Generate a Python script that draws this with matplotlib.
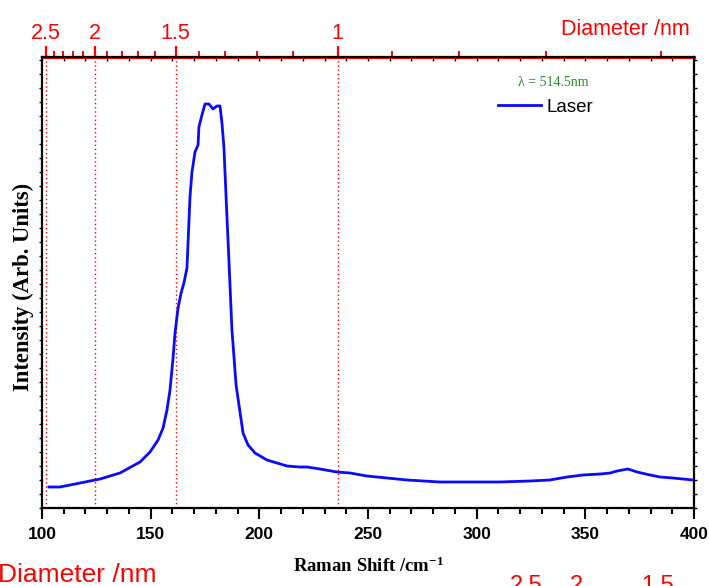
import numpy as np
import matplotlib
matplotlib.use("Agg")
import matplotlib.pyplot as plt
from matplotlib.ticker import FixedLocator, MultipleLocator

plt.rcParams["font.family"] = ["Liberation Sans", "DejaVu Sans"]
plt.rcParams["mathtext.fontset"] = "custom"
plt.rcParams["mathtext.rm"] = "Liberation Serif:bold"
plt.rcParams["mathtext.default"] = "rm"

# Raman spectrum (RBM region), arbitrary intensity units
shift = [103.2, 108.3, 117.5, 126.7, 135.9, 145.1, 149.7, 153.4, 155.7, 157.5,
         158.9, 160.3, 161.2, 162.6, 164.0, 165.3, 166.7, 168.1, 169.0, 170.4,
         171.8, 172.2, 173.6, 175.0, 176.8, 178.7, 180.5, 181.9, 182.8, 183.7,
         184.7, 186.0, 187.4, 189.3, 191.1, 192.5, 194.8, 198.0, 203.5, 208.1,
         212.7, 218.7, 221.9, 227.9, 235.7, 241.7, 249.5, 258.7, 267.9, 283.1,
         296.9, 310.7, 324.5, 333.7, 341.6, 348.9, 356.8, 361.4, 364.6, 369.6,
         373.8, 379.8, 384.4, 390.3, 399.5]
intensity = [21, 21, 25, 29, 35, 46, 56, 68, 80, 98,
             118, 150, 175, 200, 215, 225, 240, 311, 336, 356,
             363, 381, 393, 404, 404, 399, 402, 402, 385, 361,
             311, 248, 178, 123, 96, 75, 63, 55, 48, 45,
             42, 41, 41, 39, 36, 35, 32, 30, 28, 26,
             26, 26, 27, 28, 31, 33, 34, 35, 37, 39,
             36, 33, 31, 30, 28]

diam_major = [2.5, 2, 1.5, 1]
diam_major_labels = ["2.5", "2", "1.5", "1"]
diam_minor = [2.4, 2.3, 2.2, 2.1, 1.9, 1.8, 1.7, 1.6,
              1.4, 1.3, 1.2, 1.1, 0.9, 0.8, 0.7, 0.6]


def to_diam(w):
    w = np.asarray(w, dtype=float)
    return 223.5 / np.where(np.abs(w - 12.5) < 1e-6, 1e-6, w - 12.5)


def to_shift(d):
    d = np.asarray(d, dtype=float)
    return 223.5 / np.where(np.abs(d) < 1e-6, 1e-6, d) + 12.5


fig = plt.figure(figsize=(7.09, 5.86), dpi=100)
ax = fig.add_axes([42 / 709, 78 / 586, 652 / 709, 451 / 586])

ax.plot(shift, intensity, color="#0a0aff", lw=2.0, label="Laser", zorder=3)

for d in diam_major:
    ax.axvline(to_shift(d), color="red", lw=1.0, ls=(0, (1, 2)), zorder=1)

ax.set_xlim(100, 400)
ax.set_ylim(0, 451)
ax.xaxis.set_major_locator(MultipleLocator(50))
ax.xaxis.set_minor_locator(MultipleLocator(10))
ax.yaxis.set_major_locator(MultipleLocator(14))
for s in ax.spines.values():
    s.set_linewidth(1.6)
ax.tick_params(axis="x", which="major", direction="out", length=8, width=1.5,
               pad=6, labelsize=12.5)
ax.tick_params(axis="x", which="minor", direction="out", length=4, width=1.5)
ax.tick_params(axis="y", which="both", direction="out", length=2, width=1,
               left=True, right=True, labelleft=False)
for lab in ax.get_xticklabels():
    lab.set_fontweight("bold")

# mirrored black ticks under the top diameter axis
top0 = ax.secondary_xaxis("top")
top0.set_xticks(np.arange(100, 401, 10))
top0.tick_params(direction="in", length=3, width=1, labeltop=False)
top0.spines["top"].set_visible(False)

# diameter scale, d = 223.5 / (w - 12.5)
sec = ax.secondary_xaxis("top", functions=(to_diam, to_shift))
sec.xaxis.set_major_locator(FixedLocator(diam_major))
sec.set_xticklabels(diam_major_labels)
sec.xaxis.set_minor_locator(FixedLocator(diam_minor))
sec.spines["top"].set_color("red")
sec.spines["top"].set_linewidth(2.2)
sec.tick_params(axis="x", which="major", direction="out", length=8, width=1.6,
                color="red", labelcolor="red", labelsize=15.5, pad=1)
sec.tick_params(axis="x", which="minor", direction="out", length=4, width=1.4,
                color="red")

fig.text(690 / 709, (586 - 35) / 586, "Diameter /nm", color="red",
         fontsize=15.5, ha="right", va="baseline")

ax.legend(loc="center left", bbox_to_anchor=(498 / 709, (586 - 107) / 586),
          bbox_transform=fig.transFigure, frameon=False, fontsize=13.5,
          handlelength=2.3, handletextpad=0.3, borderpad=0, borderaxespad=0)
fig.text(553 / 709, (586 - 83) / 586, "\u03bb = 514.5nm", color="#2a8a2a",
         family="Liberation Serif", fontsize=10, ha="center", va="center")

fig.text(368 / 709, (586 - 566) / 586, r"Raman Shift /cm$^{-1}$",
         family="Liberation Serif", fontweight="bold", fontsize=13.5,
         ha="center", va="center")
fig.text(23 / 709, (586 - 287) / 586, "Intensity (Arb. Units)",
         family="Liberation Serif", fontweight="bold", fontsize=16.3,
         rotation=90, ha="center", va="center")

# second copy of the diameter labels at the lower edge
fig.text(-2 / 709, (586 - 582) / 586, "Diameter /nm", color="red",
         fontsize=19, ha="left", va="baseline")
for x, t in zip([526, 576, 658], ["2.5", "2", "1.5"]):
    fig.text(x / 709, (586 - 592) / 586, t, color="red", fontsize=17,
             ha="center", va="baseline")

fig.savefig("out.png", dpi=100)
